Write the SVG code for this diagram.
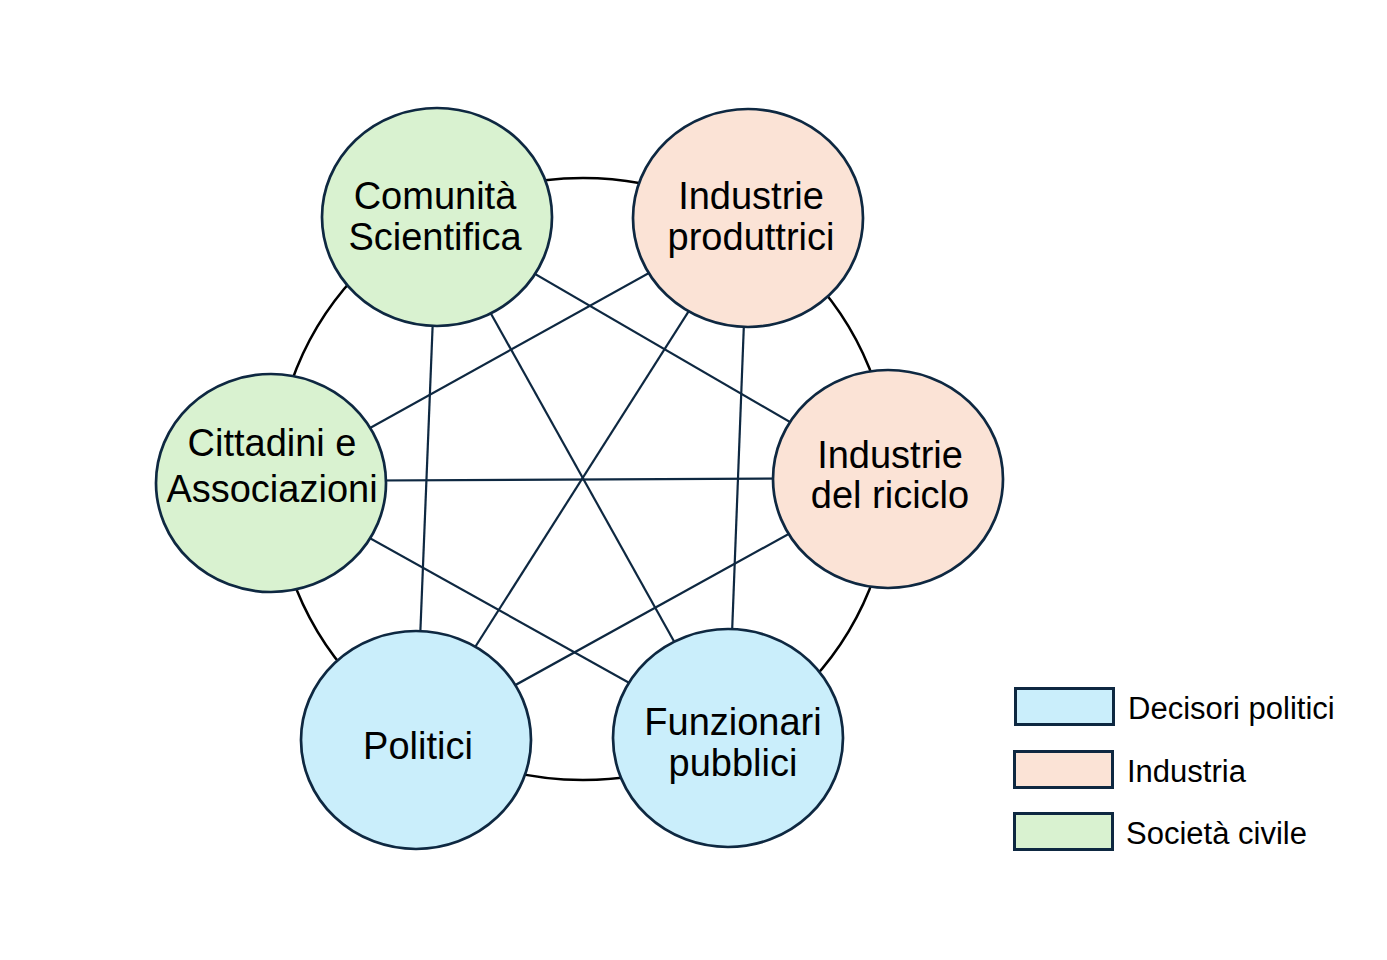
<svg xmlns="http://www.w3.org/2000/svg" width="1387" height="960" viewBox="0 0 1387 960">
<style>
.ring{fill:none;stroke:#000;stroke-width:2.5}
.conn{stroke:#0e2841;stroke-width:2.2;fill:none}
.node{stroke:#0e2841;stroke-width:2.7}
.blue{fill:#caeefb}
.peach{fill:#fbe3d6}
.green{fill:#d9f2d0}
.lbl{font-family:"Liberation Sans",Arial,sans-serif;font-size:38px;fill:#000;text-anchor:middle}
.leg{font-family:"Liberation Sans",Arial,sans-serif;font-size:31px;fill:#000}
.box{stroke:#0e2841;stroke-width:3}
</style>
<rect width="1387" height="960" fill="#fff"/>
<ellipse class="ring" cx="583" cy="479" rx="308" ry="301"/>
<g id="connectors">
<line class="conn" x1="437" y1="217" x2="888" y2="479"/>
<line class="conn" x1="437" y1="217" x2="728" y2="738"/>
<line class="conn" x1="437" y1="217" x2="416" y2="740"/>
<line class="conn" x1="748" y1="218" x2="271" y2="483"/>
<line class="conn" x1="748" y1="218" x2="416" y2="740"/>
<line class="conn" x1="748" y1="218" x2="728" y2="738"/>
<line class="conn" x1="271" y1="481" x2="888" y2="478"/>
<line class="conn" x1="271" y1="483" x2="728" y2="738"/>
<line class="conn" x1="888" y1="479" x2="416" y2="740"/>
</g>
<g id="comunita">
<ellipse class="node green" cx="437" cy="217" rx="115" ry="109"/>
<text class="lbl" x="435" y="209">Comunità</text>
<text class="lbl" x="435" y="250">Scientifica</text>
</g>
<g id="produttrici">
<ellipse class="node peach" cx="748" cy="218" rx="115" ry="109"/>
<text class="lbl" x="751" y="209">Industrie</text>
<text class="lbl" x="751" y="250">produttrici</text>
</g>
<g id="riciclo">
<ellipse class="node peach" cx="888" cy="479" rx="115" ry="109"/>
<text class="lbl" x="890" y="468">Industrie</text>
<text class="lbl" x="890" y="508">del riciclo</text>
</g>
<g id="cittadini">
<ellipse class="node green" cx="271" cy="483" rx="115" ry="109"/>
<text class="lbl" x="272" y="456">Cittadini e</text>
<text class="lbl" x="272" y="502">Associazioni</text>
</g>
<g id="politici">
<ellipse class="node blue" cx="416" cy="740" rx="115" ry="109"/>
<text class="lbl" x="418" y="759">Politici</text>
</g>
<g id="funzionari">
<ellipse class="node blue" cx="728" cy="738" rx="115" ry="109"/>
<text class="lbl" x="733" y="735">Funzionari</text>
<text class="lbl" x="733" y="776">pubblici</text>
</g>
<g id="legend">
<rect class="box blue" x="1015.5" y="688.5" width="98" height="36"/>
<text class="leg" x="1128" y="719">Decisori politici</text>
<rect class="box peach" x="1014.5" y="751.5" width="98" height="36"/>
<text class="leg" x="1127" y="782">Industria</text>
<rect class="box green" x="1014.5" y="813.5" width="98" height="36"/>
<text class="leg" x="1126" y="844">Società civile</text>
</g>
</svg>
